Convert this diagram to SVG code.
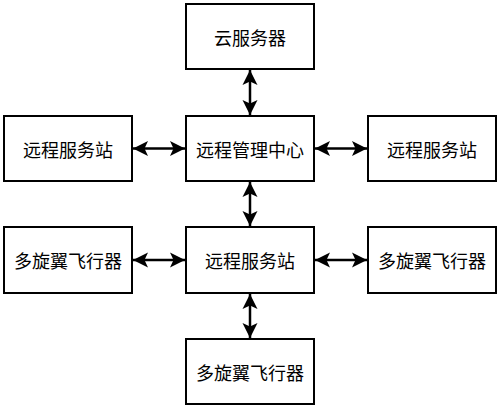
<svg xmlns="http://www.w3.org/2000/svg" width="500" height="408" viewBox="0 0 500 408">
<style>
.box{fill:#fff;stroke:#000;stroke-width:2}
.lbl{font-family:"Noto Sans CJK SC","Noto Sans",sans-serif;font-size:18px;fill:#000;text-anchor:middle;dominant-baseline:central}
.con{stroke:#000;stroke-width:2.5;fill:none;marker-start:url(#ah);marker-end:url(#ah)}
</style>
<defs>
<marker id="ah" markerUnits="userSpaceOnUse" markerWidth="16" markerHeight="18" viewBox="0 0 16 18" refX="15" refY="9" orient="auto-start-reverse">
<path d="M15,9 L0,1.5 L3.5,9 L0,16.5 Z" fill="#000"/>
</marker>
</defs>
<rect width="500" height="408" fill="#fff"/>
<g id="connectors">
<line class="con" x1="250" y1="70" x2="250" y2="115"/>
<line class="con" x1="133" y1="148.5" x2="185" y2="148.5"/>
<line class="con" x1="315" y1="148.5" x2="367" y2="148.5"/>
<line class="con" x1="250" y1="182" x2="250" y2="226"/>
<line class="con" x1="133" y1="260" x2="185" y2="260"/>
<line class="con" x1="315" y1="260" x2="367" y2="260"/>
<line class="con" x1="250" y1="294" x2="250" y2="338"/>
</g>
<g id="cloud"><rect class="box" x="186" y="4" width="128" height="65"/><text class="lbl" x="250" y="37">云服务器</text></g>
<g id="center"><rect class="box" x="186" y="116" width="128" height="65"/><text class="lbl" x="250" y="149">远程管理中心</text></g>
<g id="stationL"><rect class="box" x="4" y="116" width="128" height="65"/><text class="lbl" x="68" y="149">远程服务站</text></g>
<g id="stationR"><rect class="box" x="368" y="116" width="128" height="65"/><text class="lbl" x="432" y="149">远程服务站</text></g>
<g id="station"><rect class="box" x="186" y="227" width="128" height="66"/><text class="lbl" x="250" y="260">远程服务站</text></g>
<g id="uavL"><rect class="box" x="4" y="227" width="128" height="66"/><text class="lbl" x="68" y="260">多旋翼飞行器</text></g>
<g id="uavR"><rect class="box" x="368" y="227" width="128" height="66"/><text class="lbl" x="432" y="260">多旋翼飞行器</text></g>
<g id="uavB"><rect class="box" x="186" y="339" width="128" height="65"/><text class="lbl" x="250" y="372">多旋翼飞行器</text></g>
</svg>
